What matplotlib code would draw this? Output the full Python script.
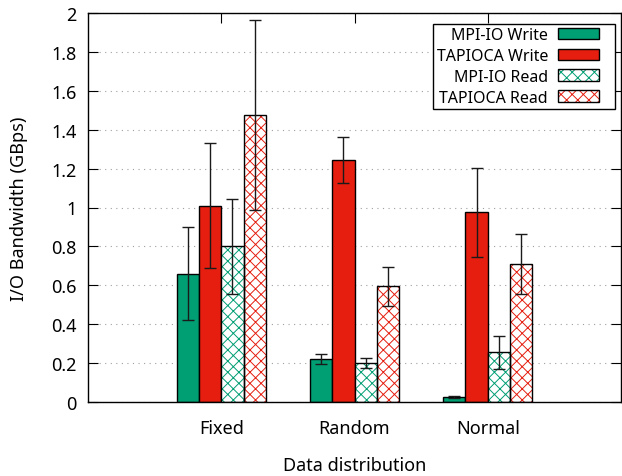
import numpy as np
import matplotlib
matplotlib.use("Agg")
import matplotlib.pyplot as plt
from matplotlib.patches import Patch, Rectangle
from matplotlib.legend_handler import HandlerPatch
from matplotlib.ticker import FuncFormatter

plt.rcParams["font.family"] = ["Noto Sans", "DejaVu Sans"]
plt.rcParams["font.size"] = 13
plt.rcParams["hatch.linewidth"] = 0.7

# data
categories = ["Fixed", "Random", "Normal"]
mpiio_write = [0.66, 0.22, 0.025]
mpiio_write_err = [0.24, 0.027, 0.005]
tapioca_write = [1.01, 1.245, 0.975]
tapioca_write_err = [0.32, 0.12, 0.23]
mpiio_read = [0.80, 0.20, 0.255]
mpiio_read_err = [0.245, 0.027, 0.085]
tapioca_read = [1.475, 0.595, 0.71]
tapioca_read_err = [0.49, 0.10, 0.155]

green = "#009e73"
red = "#e51e10"

series = [
    ("MPI-IO Write", mpiio_write, mpiio_write_err, green, False),
    ("TAPIOCA Write", tapioca_write, tapioca_write_err, red, False),
    ("MPI-IO Read", mpiio_read, mpiio_read_err, green, True),
    ("TAPIOCA Read", tapioca_read, tapioca_read_err, red, True),
]

fig = plt.figure(figsize=(6.22, 4.77), dpi=100)
ax = fig.add_axes([88 / 622, 74 / 477, 533 / 622, 389 / 477])

x = np.arange(len(categories))
w = 0.167
handles = []
for i, (label, vals, errs, col, hatched) in enumerate(series):
    pos = x + (i - 1.5) * w
    if hatched:
        ax.bar(pos, vals, w, color="white", edgecolor=col, hatch="xxx",
               linewidth=0, zorder=2)
        ax.bar(pos, vals, w, fill=False, edgecolor="black", linewidth=1.0, zorder=3)
        h = (Patch(facecolor="white", edgecolor=col, hatch="xxx", linewidth=0),
             Patch(fill=False, edgecolor="black", linewidth=1.0))
    else:
        ax.bar(pos, vals, w, color=col, edgecolor="black", linewidth=1.0, zorder=2)
        h = Patch(facecolor=col, edgecolor="black", linewidth=1.0)
    ax.errorbar(pos, vals, yerr=errs, fmt="none", ecolor="#1a1a1a",
                elinewidth=1.0, capsize=4.5, capthick=1.0, zorder=4)
    handles.append(h)

ax.set_xlim(-1, 3)
ax.set_ylim(0, 2)
ax.set_xticks(x)
ax.set_xticklabels(categories)
ax.set_yticks(np.arange(0, 2.01, 0.2))
ax.yaxis.set_major_formatter(FuncFormatter(lambda v, p: f"{v:g}"))

ax.tick_params(axis="both", direction="in", length=7.5, width=0.8,
               top=True, right=True)
ax.tick_params(axis="x", pad=12)
ax.tick_params(axis="y", pad=8)
for s in ax.spines.values():
    s.set_linewidth(1.0)

ax.set_axisbelow(True)
ax.yaxis.grid(True, linestyle=(0, (1, 4)), color="#a0a0a0", linewidth=0.8)

ax.set_ylabel("I/O Bandwidth (GBps)", labelpad=17)
ax.set_xlabel("Data distribution", labelpad=14)


# swatch leaves a gap on its right, like gnuplot's key
def swatch(legend, orig_handle, xdescent, ydescent, width, height, fontsize):
    return Rectangle((-xdescent, -ydescent), width - 9, height)


leg = ax.legend(handles, [s[0] for s in series], loc="upper right",
                bbox_to_anchor=(0.9887, 0.9717), borderaxespad=0,
                markerfirst=False, fancybox=False, framealpha=1,
                edgecolor="black", handlelength=3.38, handleheight=0.75,
                labelspacing=0.3, handletextpad=0.62, borderpad=0.2,
                fontsize=11.5, handler_map={Patch: HandlerPatch(patch_func=swatch)})
leg.get_frame().set_linewidth(1.0)

fig.savefig("out.png", dpi=100)
